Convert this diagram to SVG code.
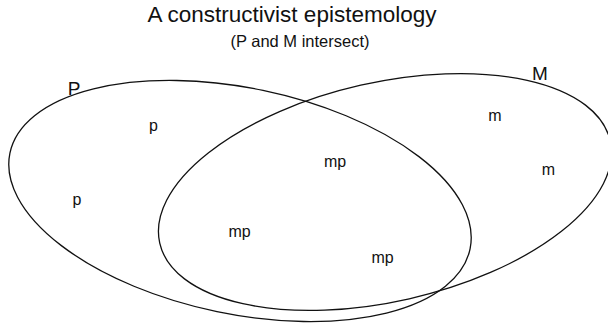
<svg xmlns="http://www.w3.org/2000/svg" width="608" height="323" viewBox="0 0 608 323">
<style>
.set{fill:none;stroke:#111;stroke-width:1.3}
text{font-family:"Liberation Sans",Arial,sans-serif;fill:#111;text-anchor:middle}
.lbl{font-size:16px}
.name{font-size:19px}
</style>
<rect width="608" height="323" fill="#fff"/>
<g id="title">
<text x="292" y="22" style="font-size:22.5px">A constructivist epistemology</text>
<text x="300" y="46.5" style="font-size:16.5px">(P and M intersect)</text>
</g>
<g id="set-P">
<ellipse class="set" cx="240" cy="201" rx="235" ry="113" transform="rotate(11.75 240 201)"/>
<text class="name" x="74" y="95">P</text>
</g>
<g id="set-M">
<ellipse class="set" cx="385" cy="192" rx="231" ry="109.5" transform="rotate(-12.8 385 192)"/>
<text class="name" x="540" y="80">M</text>
</g>
<g id="elements">
<text class="lbl" x="153.5" y="131">p</text>
<text class="lbl" x="77" y="204.5">p</text>
<text class="lbl" x="335" y="166.5">mp</text>
<text class="lbl" x="239.5" y="236.5">mp</text>
<text class="lbl" x="382.5" y="262.5">mp</text>
<text class="lbl" x="495" y="121">m</text>
<text class="lbl" x="548.5" y="175">m</text>
</g>
</svg>
